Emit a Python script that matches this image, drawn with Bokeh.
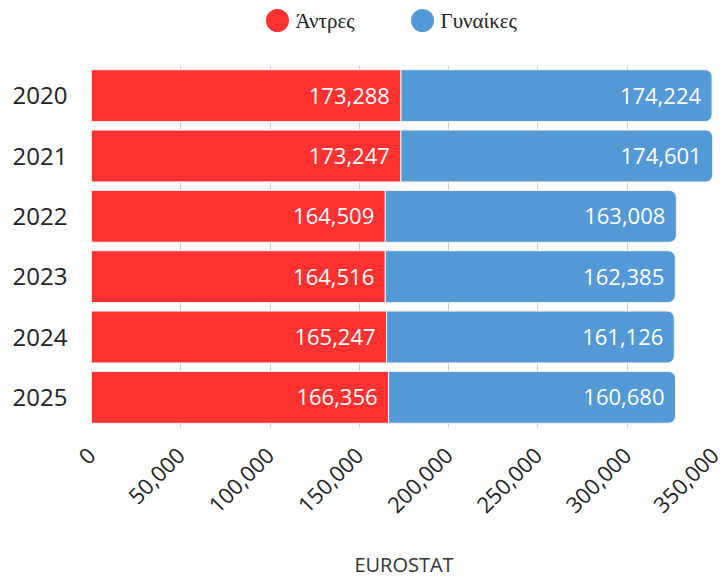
import math
from bokeh.plotting import figure
from bokeh.layouts import column
from bokeh.models import (ColumnDataSource, FactorRange, Range1d, LabelSet,
                          NumeralTickFormatter, SingleIntervalTicker)
from bokeh.core.properties import value
from bokeh.embed import file_html
from bokeh.resources import INLINE

years = ["2020", "2021", "2022", "2023", "2024", "2025"]
men = [173288, 173247, 164509, 164516, 165247, 166356]
women = [174224, 174601, 163008, 162385, 161126, 160680]
series_names = ["Άντρες", "Γυναίκες"]
source_label = "EUROSTAT"

RED = "#ff3131"
BLUE = "#5399d5"
FONT = "Open Sans"

men_end = men
women_end = [m + w for m, w in zip(men, women)]
src = ColumnDataSource(dict(
    year=years, men=men, women=women, men_end=men_end, women_end=women_end,
    zero=[0] * len(years),
    men_lbl=[f"{v:,}" for v in men], women_lbl=[f"{v:,}" for v in women],
))

# ---- legend strip (top); its frame is aligned with the chart frame (91..716 px) ----
W = 720
leg = figure(width=W, height=65, x_range=Range1d(91, 716), y_range=Range1d(0, 65),
             output_backend="svg", toolbar_location=None,
             x_axis_type=None, y_axis_type=None,
             min_border_left=0, min_border_right=0, min_border_top=0, min_border_bottom=0)
leg.outline_line_color = None
leg.grid.visible = False
leg_src = ColumnDataSource(dict(mx=[277, 422], tx=[295, 440], y=[45, 45],
                                color=[RED, BLUE], label=series_names))
leg.scatter(x="mx", y="y", source=leg_src, marker="circle", size=23,
            fill_color="color", line_color=None)
leg.text(x="tx", y="y", text="label", source=leg_src, text_align="left",
         text_baseline="middle", text_font=value("Liberation Serif"),
         text_font_size="21px", text_color="#222222")

# ---- main chart ----
yr = FactorRange(factors=years[::-1], range_padding=0)
p = figure(frame_width=625, frame_height=362, y_range=yr, x_range=Range1d(0, 350000),
           output_backend="svg", toolbar_location=None,
           min_border_left=91, min_border_right=4, min_border_bottom=148, min_border_top=0)
p.outline_line_color = None

r_men = p.hbar(y="year", left="zero", right="men_end", height=0.86, source=src,
               fill_color=RED, line_color="#f4f4f4", line_width=1)
r_women = p.hbar(y="year", left="men_end", right="women_end", height=0.86, source=src,
                 fill_color=BLUE, line_color="#f4f4f4", line_width=1,
                 border_radius=(0, 7, 7, 0))

for col, xcol in (("men_lbl", "men_end"), ("women_lbl", "women_end")):
    p.add_layout(LabelSet(x=xcol, y="year", text=col, source=src, x_offset=-11,
                          text_align="right", text_baseline="middle",
                          text_color="white", text_font=value(FONT), text_font_size="22px"))

p.ygrid.grid_line_color = None
p.xgrid.grid_line_color = "#cccccc"
p.xgrid.grid_line_width = 1
p.xaxis.ticker = SingleIntervalTicker(interval=50000)
p.xaxis.formatter = NumeralTickFormatter(format="0,0")
p.xaxis.major_label_orientation = math.pi / 4
p.xaxis.major_label_standoff = 18
p.xaxis.axis_line_color = None
p.xaxis.major_tick_line_color = None
p.xaxis.minor_tick_line_color = None
p.xaxis.major_label_text_font = FONT
p.xaxis.major_label_text_font_size = "22px"
p.xaxis.major_label_text_color = "#222222"
p.xaxis.axis_label = source_label
p.xaxis.axis_label_text_font = FONT
p.xaxis.axis_label_text_font_style = "normal"
p.xaxis.axis_label_text_font_size = "20px"
p.xaxis.axis_label_text_color = "#333333"
p.xaxis.axis_label_standoff = 28

p.yaxis.axis_line_color = None
p.yaxis.major_tick_line_color = None
p.yaxis.minor_tick_line_color = None
p.yaxis.major_label_text_font = FONT
p.yaxis.major_label_text_font_size = "24px"
p.yaxis.major_label_text_color = "#222222"
p.yaxis.major_label_standoff = 18

layout = column(leg, p, spacing=0)
open("out.html", "w").write(file_html(layout, INLINE))
